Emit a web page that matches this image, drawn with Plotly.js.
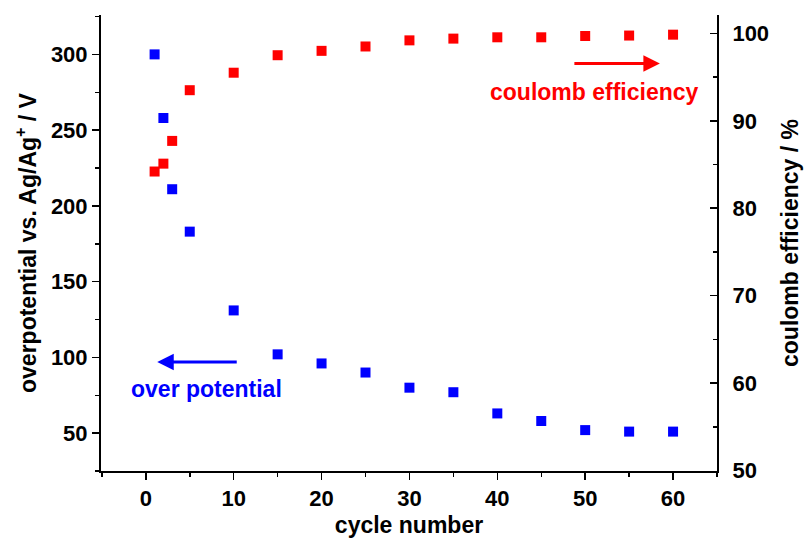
<!DOCTYPE html>
<html>
<head>
<meta charset="utf-8">
<script src="https://cdn.plot.ly/plotly-3.0.1.min.js"></script>
<style>html,body{margin:0;padding:0;background:#fff;}#chart{width:808px;height:541px;}</style>
</head>
<body>
<div id="chart"></div>
<script>
const cycles = [1, 2, 3, 5, 10, 15, 20, 25, 30, 35, 40, 45, 50, 55, 60];
const overpotential = [300, 258, 211, 183, 131, 102, 96, 90, 80, 77, 63, 58, 52, 51, 51];
const coulombEfficiency = [84.2, 85.1, 87.7, 93.5, 95.5, 97.5, 98.0, 98.5, 99.2, 99.4, 99.55, 99.55, 99.7, 99.75, 99.85];
const xTicks = [0, 10, 20, 30, 40, 50, 60];
const leftTicks = [50, 100, 150, 200, 250, 300];
const rightTicks = [50, 60, 70, 80, 90, 100];

const FONT = 'Liberation Sans, Arial, sans-serif';
const tickFont = {family: FONT, size: 22, color: '#000', weight: 'bold'};
const titleFont = {family: FONT, size: 23, color: '#000', weight: 'bold'};

const traces = [
  {x: cycles, y: overpotential, type: 'scatter', mode: 'markers', xaxis: 'x', yaxis: 'y',
   marker: {symbol: 'square', size: 10, color: '#0000ff'}, name: 'over potential'},
  {x: cycles, y: coulombEfficiency, type: 'scatter', mode: 'markers', xaxis: 'x', yaxis: 'y2',
   marker: {symbol: 'square', size: 10, color: '#ff0000'}, name: 'coulomb efficiency'}
];

const layout = {
  width: 808, height: 541,
  margin: {l: 101, r: 91, t: 15, b: 70},
  paper_bgcolor: '#fff', plot_bgcolor: '#fff',
  showlegend: false,
  font: {family: FONT, color: '#000'},
  xaxis: {
    range: [-5.1, 65], tickvals: xTicks, ticktext: xTicks.map(String),
    ticks: 'outside', ticklen: 7, tickwidth: 1.5, tickcolor: '#000',
    minor: {dtick: 5, tick0: 0, ticks: 'outside', ticklen: 4, tickwidth: 1.5, tickcolor: '#000'},
    showline: true, linecolor: '#000', linewidth: 2, showgrid: false, zeroline: false,
    tickfont: tickFont,
    title: {text: 'cycle number', font: titleFont, standoff: 6}
  },
  yaxis: {
    range: [25, 326], tickvals: leftTicks, ticktext: leftTicks.map(String),
    ticks: 'outside', ticklen: 7, tickwidth: 1.5, tickcolor: '#000',
    minor: {dtick: 25, tick0: 0, ticks: 'outside', ticklen: 4, tickwidth: 1.5, tickcolor: '#000'},
    showline: true, linecolor: '#000', linewidth: 2, showgrid: false, zeroline: false,
    tickfont: tickFont,
    title: {text: 'overpotential vs. Ag/Ag<sup>+</sup> / V', font: titleFont, standoff: 8}
  },
  yaxis2: {
    overlaying: 'y', side: 'right',
    range: [49.95, 102.1], tickvals: rightTicks, ticktext: rightTicks.map(String),
    ticks: 'inside', ticklen: 7, tickwidth: 1.5, tickcolor: '#000',
    minor: {dtick: 5, tick0: 0, ticks: 'inside', ticklen: 4, tickwidth: 1.5, tickcolor: '#000'},
    showline: true, linecolor: '#000', linewidth: 2, showgrid: false, zeroline: false,
    tickfont: tickFont, ticklabelstandoff: 9,
    title: {text: 'coulomb efficiency / %', font: titleFont, standoff: 14}
  },
  annotations: [
    {x: 1.3, y: 97, xref: 'x', yref: 'y', text: '', showarrow: true,
     ax: 81, ay: 0, arrowhead: 2, arrowsize: 1.1, arrowwidth: 3, arrowcolor: '#0000ff'},
    {x: 6.9, y: 79, xref: 'x', yref: 'y', text: 'over potential', showarrow: false,
     font: {family: FONT, size: 23, color: '#0000ff', weight: 'bold'}},
    {x: 58.5, y: 294, xref: 'x', yref: 'y', text: '', showarrow: true,
     ax: -87, ay: 0, arrowhead: 2, arrowsize: 1.1, arrowwidth: 3, arrowcolor: '#ff0000'},
    {x: 51.1, y: 275, xref: 'x', yref: 'y', text: 'coulomb efficiency', showarrow: false,
     font: {family: FONT, size: 23, color: '#ff0000', weight: 'bold'}}
  ]
};

Plotly.newPlot('chart', traces, layout, {displayModeBar: false, staticPlot: true});
</script>
</body>
</html>
